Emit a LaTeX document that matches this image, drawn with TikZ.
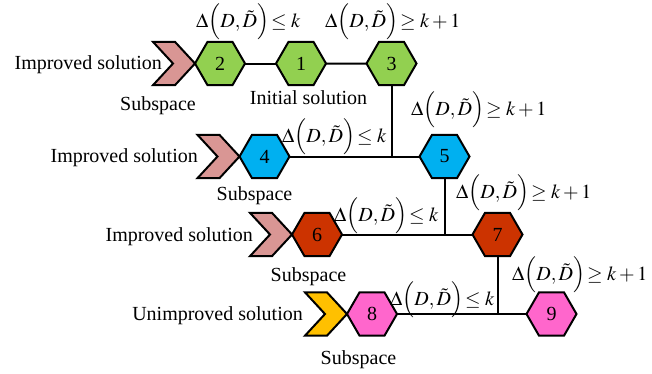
\documentclass[tikz,border=0pt]{standalone}
\usepackage{mathptmx}
\usepackage{fontspec}
\setmainfont{Liberation Serif}
\usetikzlibrary{shapes.geometric,calc}
\definecolor{hgreen}{HTML}{92D050}
\definecolor{hblue}{HTML}{00B0F0}
\definecolor{hred}{HTML}{CC3300}
\definecolor{hpink}{HTML}{FF66CC}
\definecolor{cpink}{HTML}{D99694}
\definecolor{cyellow}{HTML}{FFC000}
\newcommand{\dle}{$\Delta\Bigl(D,\tilde{D}\Bigr)\,{\le}\;k$}
\newcommand{\dge}{$\Delta\Bigl(D,\tilde{D}\Bigr)\,{\ge}\;k+1$}
\tikzset{
  hexa/.style={regular polygon, regular polygon sides=6, minimum size=50pt,
    inner sep=0pt, outer sep=0pt, draw=black, line width=2pt, font=\fontsize{20}{24}\selectfont},
  txt/.style={inner sep=0pt, font=\fontsize{20}{24}\selectfont},
  lbl/.style={inner sep=0pt, anchor=base west, font=\fontsize{20}{24}\selectfont},
  conn/.style={line width=2pt},
  chev/.style={draw=black, line width=2pt, line join=miter}
}
\begin{document}
\begin{tikzpicture}[x=1pt,y=-1pt]
\useasboundingbox (0,0) rectangle (652,373);
% hexagons
\node[hexa, fill=hgreen] (h2) at (220,63.5) {2};
\node[hexa, fill=hgreen] (h1) at (301,63.5) {1};
\node[hexa, fill=hgreen] (h3) at (391.5,63.5) {3};
\node[hexa, fill=hblue] (h4) at (264.5,156.5) {4};
\node[hexa, fill=hblue] (h5) at (444.5,156.5) {5};
\node[hexa, fill=hred] (h6) at (317,234.5) {6};
\node[hexa, fill=hred] (h7) at (497.5,234.5) {7};
\node[hexa, fill=hpink] (h8) at (372,314) {8};
\node[hexa, fill=hpink] (h9) at (551.5,314) {9};
% chevrons
\foreach \h/\c in {h2/cpink,h4/cpink,h6/cpink,h8/cyellow}{
  \draw[chev, fill=\c] (\h.west) -- ++(-20,-21.65) -- ++(-22,0) -- ++(20,21.65)
    -- ++(-20,21.65) -- ++(22,0) -- cycle;
}
% connectors
\draw[conn] (h2.east) -- (h1.west);
\draw[conn] (h1.east) -- (h3.west);
\draw[conn] (h4.east) -- (h5.west);
\draw[conn] (h3.south) -- (h3.south |- h4.east);
\draw[conn] (h6.east) -- (h7.west);
\draw[conn] (h5.south) -- (h5.south |- h6.east);
\draw[conn] (h8.east) -- (h9.west);
\draw[conn] (h7.south) -- (h7.south |- h8.east);
% texts
\node[txt, anchor=base east] (t1) at (162,69.5) {Improved solution};
\node[txt, anchor=base east] (t2) at (198,162.5) {Improved solution};
\node[txt, anchor=base east] (t3) at (253,241) {Improved solution};
\node[txt, anchor=base east] (t4) at (303,320) {Unimproved solution};
\node[txt, anchor=base] (s1) at (158,110) {Subspace};
\node[txt, anchor=base] (s2) at (254.5,200) {Subspace};
\node[txt, anchor=base] (s3) at (308.5,281) {Subspace};
\node[txt, anchor=base] (s4) at (358.5,364) {Subspace};
\node[txt, anchor=base] (init) at (308.5,104) {Initial solution};
% labels
\node[lbl] (l1) at (196,27) {\dle};
\node[lbl] (l2) at (325,27) {\dge};
\node[lbl] (l3) at (411,115) {\dge};
\node[lbl] (l4) at (282,142) {\dle};
\node[lbl] (l5) at (456,198) {\dge};
\node[lbl] (l6) at (334,221) {\dle};
\node[lbl] (l7) at (512,280) {\dge};
\node[lbl] (l8) at (390,305) {\dle};
\end{tikzpicture}
\end{document}
